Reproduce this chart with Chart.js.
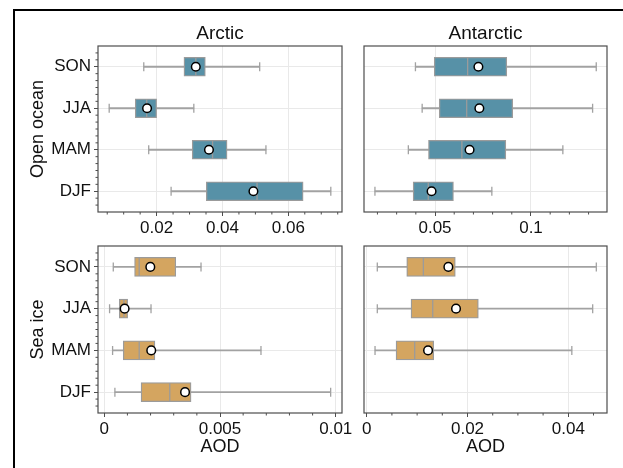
<!DOCTYPE html>
<html><head><meta charset="utf-8">
<script src="https://cdn.jsdelivr.net/npm/chart.js@4.4.1/dist/chart.umd.min.js"></script>
<style>
html,body{margin:0;padding:0;background:#fff;overflow:hidden;width:623px;height:468px;}
#frame{position:absolute;left:13px;top:9px;width:700px;height:600px;border-left:2.5px solid #000;border-top:2.5px solid #000;}
canvas{position:absolute;left:0;top:0;width:623px;height:468px;}
</style></head><body>
<div id="frame"></div>
<canvas id="c1" width="623" height="468"></canvas>
<canvas id="c2" width="623" height="468"></canvas>
<canvas id="c3" width="623" height="468"></canvas>
<canvas id="c4" width="623" height="468"></canvas>
<script>
// ---- data ----
const SEASONS = ['SON', 'JJA', 'MAM', 'DJF'];

// Arctic, open ocean
const ARC_OCEAN_LO   = [0.0161, 0.0056, 0.0176, 0.0244];
const ARC_OCEAN_Q1   = [0.0283, 0.0135, 0.0308, 0.0351];
const ARC_OCEAN_MED  = [0.0319, 0.0170, 0.0370, 0.0505];
const ARC_OCEAN_Q3   = [0.0348, 0.0200, 0.0414, 0.0645];
const ARC_OCEAN_HI   = [0.0513, 0.0313, 0.0532, 0.0729];
const ARC_OCEAN_MEAN = [0.0319, 0.0171, 0.0359, 0.0494];

// Antarctic, open ocean
const ANT_OCEAN_LO   = [0.0398, 0.0433, 0.0361, 0.0187];
const ANT_OCEAN_Q1   = [0.0496, 0.0522, 0.0466, 0.0386];
const ANT_OCEAN_MED  = [0.0670, 0.0665, 0.0640, 0.0465];
const ANT_OCEAN_Q3   = [0.0874, 0.0905, 0.0869, 0.0596];
const ANT_OCEAN_HI   = [0.1340, 0.1321, 0.1166, 0.0796];
const ANT_OCEAN_MEAN = [0.0726, 0.0731, 0.0680, 0.0482];

// Arctic, sea ice
const ARC_ICE_LO   = [0.00039, 0.00023, 0.00036, 0.00046];
const ARC_ICE_Q1   = [0.00131, 0.00065, 0.00082, 0.00159];
const ARC_ICE_MED  = [0.00151, 0.00085, 0.00151, 0.00283];
const ARC_ICE_Q3   = [0.00309, 0.00101, 0.00219, 0.00375];
const ARC_ICE_HI   = [0.00418, 0.00202, 0.00677, 0.00978];
const ARC_ICE_MEAN = [0.00199, 0.00088, 0.00203, 0.00349];

// Antarctic, sea ice (no DJF)
const ANT_ICE_LO   = [0.0021, 0.0021, 0.00165, null];
const ANT_ICE_Q1   = [0.00794, 0.00879, 0.00582, null];
const ANT_ICE_MED  = [0.01124, 0.0131, 0.00952, null];
const ANT_ICE_Q3   = [0.01758, 0.02215, 0.0133, null];
const ANT_ICE_HI   = [0.04556, 0.04484, 0.0407, null];
const ANT_ICE_MEAN = [0.0162, 0.01772, 0.01217, null];

// tick labels
const TICKS_ARC_OCEAN = [0.02, 0.04, 0.06];
const TICKS_ANT_OCEAN = [0.05, 0.1];
const TICKS_ARC_ICE   = [0, 0.005, 0.01];
const TICKS_ANT_ICE   = [0, 0.02, 0.04];

const COL_TITLES = ['Arctic', 'Antarctic'];
const ROW_TITLES = ['Open ocean', 'Sea ice'];
const X_TITLE = 'AOD';

// ---- style ----
const FONT = "'Liberation Sans', Arial, Helvetica, sans-serif";
const BLUE = '#5791a7', TAN = '#d4a560';
const EDGE = '#9b9b9b', WHISK = '#a2a2a2', SPINE = '#4d4d4d', GRID = '#e9e9e9', TXT = '#111';

function panel(id, o) {
  const pts = (arr) => SEASONS.map((s, i) => arr[i] == null ? null : {x: arr[i], y: s}).filter(p => p);
  const framePlugin = {
    id: 'frame' + id,
    afterDraw(chart) {
      const {ctx, chartArea: a, scales} = chart;
      ctx.save();
      ctx.strokeStyle = SPINE;
      ctx.lineWidth = 1.2;
      ctx.strokeRect(a.left, a.top, a.right - a.left, a.bottom - a.top);
      ctx.lineWidth = 1;
      const xs = scales.x;
      const k0 = Math.ceil(xs.min / o.minor - 1e-9), k1 = Math.floor(xs.max / o.minor + 1e-9);
      ctx.beginPath();
      for (let k = k0; k <= k1; k++) {
        const v = k * o.minor;
        if (o.ticks.some(t => Math.abs(t - v) < o.minor * 0.01)) continue;
        const px = xs.getPixelForValue(v);
        ctx.moveTo(px, a.bottom);
        ctx.lineTo(px, a.bottom + 2.5);
      }
      if (o.yTicks) {
        const ys = scales.y;
        for (let j = 1; j < 24; j++) {
          if (j % 6 === 3) continue;
          const py = ys.getPixelForValue(-0.5 + j / 6);
          ctx.moveTo(a.left - 2.5, py);
          ctx.lineTo(a.left, py);
        }
      }
      ctx.stroke();
      ctx.restore();
    }
  };

  const datasets = [
    {
      type: 'bar', label: 'whisker', order: 5, grouped: false,
      data: SEASONS.map((s, i) => o.lo[i] == null ? null : [o.lo[i], o.hi[i]]),
      backgroundColor: WHISK, borderWidth: 0, barThickness: 1.3
    },
    {
      type: 'bar', label: 'box', order: 4, grouped: false,
      data: SEASONS.map((s, i) => o.q1[i] == null ? null : [o.q1[i], o.q3[i]]),
      backgroundColor: o.fill, borderColor: EDGE, borderWidth: 1.3, borderSkipped: false,
      barThickness: 19
    },
    {
      type: 'scatter', label: 'caps', order: 3,
      data: pts(o.lo).concat(pts(o.hi)),
      pointStyle: 'line', rotation: 90, radius: 4.5, borderColor: WHISK, borderWidth: 1.3
    },
    {
      type: 'scatter', label: 'median', order: 2,
      data: pts(o.med),
      pointStyle: 'line', rotation: 90, radius: 9, borderColor: EDGE, borderWidth: 1.3
    },
    {
      type: 'scatter', label: 'mean', order: 1,
      data: pts(o.mean),
      pointStyle: 'circle', radius: 4.3, backgroundColor: '#fff', borderColor: '#000', borderWidth: 1.5
    }
  ];

  return new Chart(document.getElementById(id), {
    type: 'bar',
    data: {labels: SEASONS, datasets},
    plugins: [framePlugin],
    options: {
      indexAxis: 'y',
      responsive: false,
      animation: false,
      events: [],
      layout: {padding: o.pad},
      plugins: {
        legend: {display: false},
        tooltip: {enabled: false},
        title: {
          display: !!o.title, text: o.title || '', fullSize: false,
          font: {family: FONT, size: 19, weight: 'normal'}, color: TXT,
          padding: {top: 22, bottom: 1.2}
        }
      },
      scales: {
        x: {
          type: 'linear', min: o.min, max: o.max,
          afterBuildTicks: (s) => { s.ticks = o.ticks.map(v => ({value: v})); },
          afterFit: (s) => { s.height = o.xh; },
          ticks: {
            font: {family: FONT, size: 17}, color: TXT, padding: 2.5, maxRotation: 0,
            callback: (v) => String(+Number(v).toFixed(6))
          },
          grid: {color: GRID, lineWidth: 1, drawTicks: true, tickLength: 4, tickColor: SPINE, tickWidth: 1},
          border: {display: false},
          title: {
            display: !!o.xTitle, text: o.xTitle || '',
            font: {family: FONT, size: 18}, color: TXT, padding: {top: 0, bottom: 7}
          }
        },
        y: {
          type: 'category', offset: true,
          afterFit: (s) => { s.width = o.yw; },
          ticks: {display: !!o.yTicks, font: {family: FONT, size: 17}, color: TXT, padding: 3},
          grid: {color: GRID, lineWidth: 1, offset: false, drawTicks: !!o.yTicks, tickLength: 4, tickColor: SPINE, tickWidth: 1},
          border: {display: false},
          title: {
            display: !!o.yTitle, text: o.yTitle || '',
            font: {family: FONT, size: 18}, color: TXT, padding: {top: 27, bottom: 0}
          }
        }
      }
    }
  });
}

panel('c1', {
  lo: ARC_OCEAN_LO, q1: ARC_OCEAN_Q1, med: ARC_OCEAN_MED, q3: ARC_OCEAN_Q3, hi: ARC_OCEAN_HI, mean: ARC_OCEAN_MEAN,
  fill: BLUE, min: 0.0022, max: 0.0763, ticks: TICKS_ARC_OCEAN, minor: 0.005,
  title: COL_TITLES[0], yTitle: ROW_TITLES[0], yTicks: true, yw: 98, xh: 30,
  pad: {left: 0, right: 281, top: 0, bottom: 226}
});
panel('c2', {
  lo: ANT_OCEAN_LO, q1: ANT_OCEAN_Q1, med: ANT_OCEAN_MED, q3: ANT_OCEAN_Q3, hi: ANT_OCEAN_HI, mean: ANT_OCEAN_MEAN,
  fill: BLUE, min: 0.013, max: 0.1396, ticks: TICKS_ANT_OCEAN, minor: 0.01,
  title: COL_TITLES[1], yTicks: false, yw: 0, xh: 30,
  pad: {left: 364, right: 16, top: 0, bottom: 226}
});
panel('c3', {
  lo: ARC_ICE_LO, q1: ARC_ICE_Q1, med: ARC_ICE_MED, q3: ARC_ICE_Q3, hi: ARC_ICE_HI, mean: ARC_ICE_MEAN,
  fill: TAN, min: -0.00027, max: 0.01027, ticks: TICKS_ARC_ICE, minor: 0.001,
  yTitle: ROW_TITLES[1], xTitle: X_TITLE, yTicks: true, yw: 98, xh: 52,
  pad: {left: 0, right: 281, top: 246, bottom: 3}
});
panel('c4', {
  lo: ANT_ICE_LO, q1: ANT_ICE_Q1, med: ANT_ICE_MED, q3: ANT_ICE_Q3, hi: ANT_ICE_HI, mean: ANT_ICE_MEAN,
  fill: TAN, min: -0.00054, max: 0.04768, ticks: TICKS_ANT_ICE, minor: 0.005,
  xTitle: X_TITLE, yTicks: false, yw: 0, xh: 52,
  pad: {left: 364, right: 16, top: 246, bottom: 3}
});
</script>
</body></html>
